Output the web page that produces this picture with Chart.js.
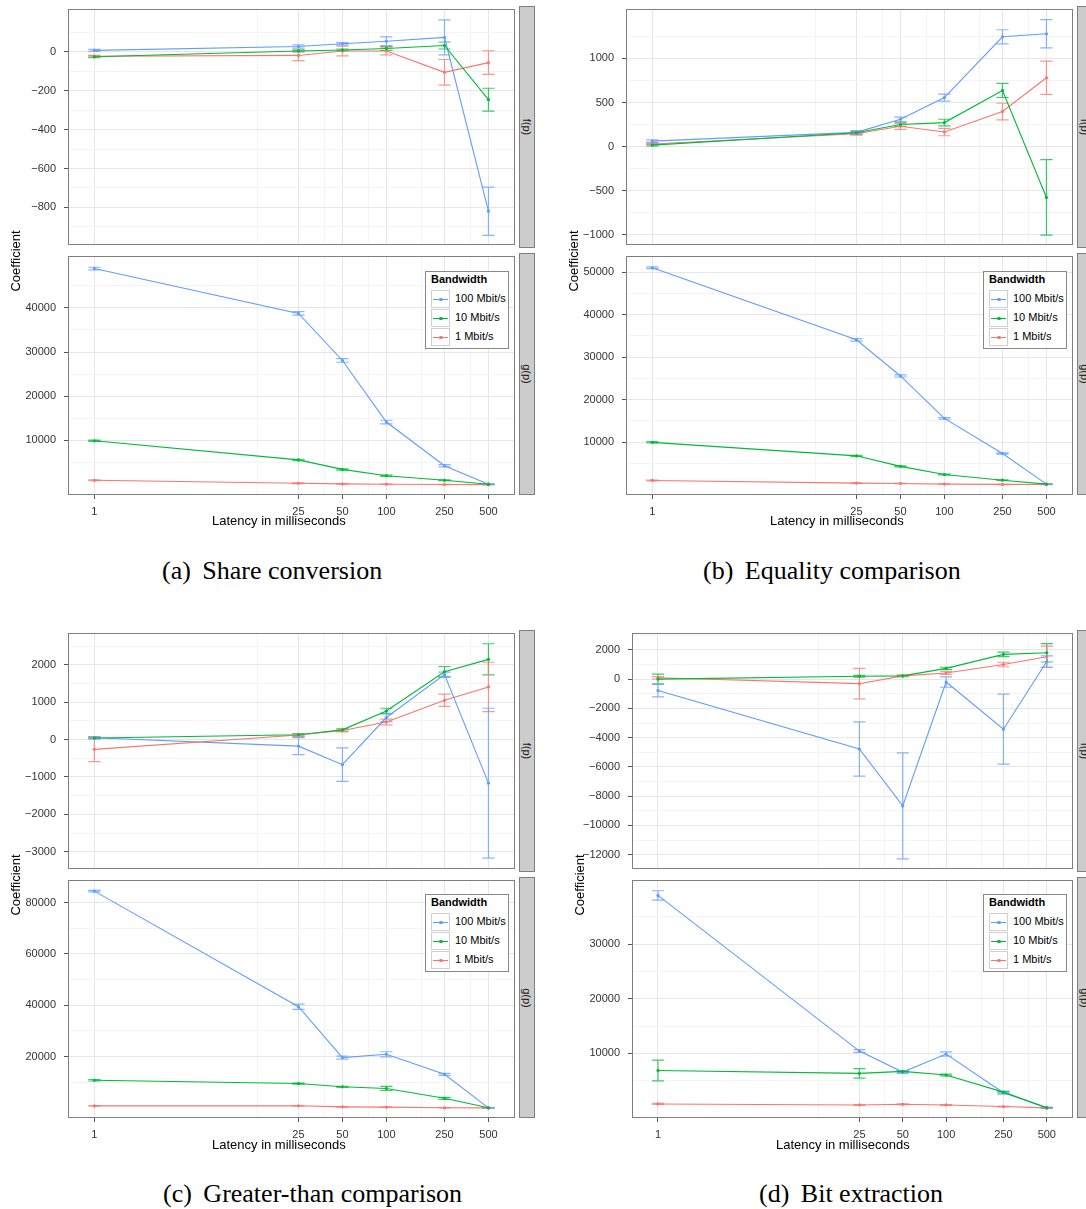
<!DOCTYPE html>
<html>
<head>
<meta charset="utf-8">
<title>Latency coefficients</title>
<script src="https://cdn.jsdelivr.net/npm/chart.js@4.4.1/dist/chart.umd.min.js"></script>
<style>
  body { margin: 0; width: 1086px; height: 1209px; position: relative; overflow: hidden; background: #fff;
         font-family: "Liberation Sans", Arial, sans-serif; color: #000; }
  canvas { position: absolute; }
  .strip { position: absolute; background: #ccc; border: 1px solid #7f7f7f; box-sizing: border-box; }
  .strip span { position: absolute; left: 50%; top: 50%; transform: translate(-50%, -50%) rotate(90deg);
                font-size: 11px; color: #1a1a1a; white-space: nowrap; }
  .ytitle { position: absolute; width: 80px; height: 16px; line-height: 16px; text-align: center; font-size: 13px;
            font-weight: normal; white-space: nowrap; transform: translate(-40px, -8px) rotate(-90deg); }
  .xtitle { position: absolute; font-size: 13px; line-height: 16px; white-space: nowrap; z-index: 2; }
  .caption { position: absolute; font-family: "Liberation Serif", "Times New Roman", serif; font-size: 26px;
             line-height: 30px; white-space: nowrap; }
  .caption span { margin-right: 5px; }
  .legend { position: absolute; width: 84px; height: 78px; box-sizing: border-box; border: 1px solid #888;
            background: #fff; font-size: 11px; z-index: 2; }
  .legend .title { position: absolute; left: 5px; top: 1px; font-weight: bold; }
  .legend .row { position: absolute; left: 5px; height: 18px; width: 75px; }
  .legend .key { position: absolute; left: 0; top: 0; width: 19px; height: 18px; box-sizing: border-box; border: 1px solid #d0d0d0; }
  .legend .key i { position: absolute; left: 1px; right: 1px; top: 7.5px; height: 1.5px; }
  .legend .key b { position: absolute; left: 7px; top: 6.5px; width: 3.5px; height: 3.5px; border-radius: 50%; }
  .legend .lab { position: absolute; left: 24px; top: 2px; white-space: nowrap; }
</style>
</head>
<body>
<script>
// latency in ms, shared by every panel (log axis)
const latency = [1, 25, 50, 100, 250, 500];
const latencyMinor = [13, 37.5, 75, 175, 375];
const bandwidths = ['100 Mbit/s', '10 Mbit/s', '1 Mbit/s'];
const seriesColours = ['#619CFF', '#00BA38', '#F8766D'];

// rows are in bandwidth order: 100, 10, 1 Mbit/s

// (a) Share conversion
const shareF = [[8, 28, 42, 55, 75, -820], [-25, 5, 10, 18, 33, -246], [-22, -18, 5, 5, -105, -55]];
const shareFErr = [[5, 8, 6, 22, 90, 124], [4, 5, 5, 10, 18, 59], [4, 27, 25, 20, 66, 61]];
const shareG = [[48900, 38740, 28100, 14170, 4270, 100], [9925, 5600, 3450, 2030, 990, 100], [990, 320, 170, 100, 20, 10]];
const shareGErr = [[300, 400, 400, 400, 250, 100], [150, 150, 150, 150, 100, 50], [100, 80, 60, 50, 30, 20]];
const shareFTicks = [-800, -600, -400, -200, 0];
const shareGTicks = [10000, 20000, 30000, 40000];
const shareFRange = [-994, 221];
const shareGRange = [-2340, 51740];

// (b) Equality comparison
const eqF = [[63, 162, 310, 556, 1245, 1279], [18, 158, 251, 273, 637, -575], [30, 147, 232, 166, 398, 781]];
const eqFErr = [[15, 20, 25, 40, 80, 160], [10, 12, 20, 38, 80, 428], [10, 15, 35, 42, 94, 188]];
const eqG = [[51006, 34060, 25550, 15570, 7290, 100], [9920, 6750, 4270, 2340, 1020, 100], [950, 330, 250, 100, 20, 10]];
const eqGErr = [[200, 300, 250, 200, 150, 80], [150, 120, 120, 100, 80, 50], [80, 60, 50, 40, 30, 20]];
const eqFTicks = [-1000, -500, 0, 500, 1000];
const eqGTicks = [10000, 20000, 30000, 40000, 50000];
const eqFRange = [-1114, 1560];
const eqGRange = [-2470, 53785];

// (c) Greater-than comparison
const gtF = [[52, -174, -670, 591, 1739, -1165], [43, 130, 261, 765, 1817, 2148], [-261, 122, 243, 470, 1052, 1409]];
const gtFErr = [[30, 226, 448, 110, 65, 2005], [20, 30, 30, 75, 140, 417], [330, 40, 35, 78, 165, 661]];
const gtG = [[84490, 39450, 19620, 20900, 13090, 50], [10790, 9510, 8230, 7590, 3750, 50], [800, 850, 420, 300, 50, 20]];
const gtGErr = [[300, 1000, 600, 1000, 400, 100], [300, 200, 200, 800, 400, 50], [150, 100, 80, 60, 40, 20]];
const gtFTicks = [-3000, -2000, -1000, 0, 1000, 2000];
const gtGTicks = [20000, 40000, 60000, 80000];
const gtFRange = [-3462, 2853];
const gtGRange = [-3920, 88830];

// (d) Bit extraction
const bitF = [[-778, -4778, -8667, -200, -3422, 1200], [0, 200, 222, 733, 1689, 1800], [89, -311, 222, 422, 1000, 1530]];
const bitFErr = [[440, 1855, 3620, 356, 2390, 390], [340, 60, 50, 80, 150, 630], [80, 1045, 40, 100, 155, 720]];
const bitG = [[38890, 10420, 6580, 9880, 2790, 90], [6880, 6340, 6700, 6040, 2910, 30], [750, 570, 690, 570, 270, 30]];
const bitGErr = [[850, 250, 250, 400, 250, 80], [1900, 880, 150, 150, 150, 50], [100, 80, 80, 80, 60, 30]];
const bitFTicks = [-12000, -10000, -8000, -6000, -4000, -2000, 0, 2000];
const bitGTicks = [10000, 20000, 30000];
const bitFRange = [-12980, 3153];
const bitGRange = [-1820, 41710];

// page layout
const rows = [
  { fTop: 6, fBottom: 248, gTop: 253, gBottom: 495, titleY: 261, xTitleTop: 513, legendTop: 271, captionTop: 556 },
  { fTop: 630, fBottom: 872, gTop: 877, gBottom: 1118, titleY: 885, xTitleTop: 1137, legendTop: 894, captionTop: 1179 }
];
const panels = [
  { tag: '(a)', name: 'Share conversion', left: 68, right: 518, row: 0, captionX: 162,
    f: { values: shareF, errors: shareFErr, ticks: shareFTicks, range: shareFRange },
    g: { values: shareG, errors: shareGErr, ticks: shareGTicks, range: shareGRange } },
  { tag: '(b)', name: 'Equality comparison', left: 626, right: 1076, row: 0, captionX: 703,
    f: { values: eqF, errors: eqFErr, ticks: eqFTicks, range: eqFRange },
    g: { values: eqG, errors: eqGErr, ticks: eqGTicks, range: eqGRange } },
  { tag: '(c)', name: 'Greater-than comparison', left: 68, right: 518, row: 1, captionX: 163,
    f: { values: gtF, errors: gtFErr, ticks: gtFTicks, range: gtFRange },
    g: { values: gtG, errors: gtGErr, ticks: gtGTicks, range: gtGRange } },
  { tag: '(d)', name: 'Bit extraction', left: 632, right: 1076, row: 1, captionX: 759,
    f: { values: bitF, errors: bitFErr, ticks: bitFTicks, range: bitFRange },
    g: { values: bitG, errors: bitGErr, ticks: bitGTicks, range: bitGRange } }
];

const AXIS_W = 64;
const X_AXIS_H = 26;
const STRIP_W = 16;
const capSpan = Math.pow(10, 0.042); // half width of error bar caps, in log units

Chart.defaults.font.family = '"Liberation Sans", Arial, sans-serif';
Chart.defaults.font.size = 11;
Chart.defaults.color = '#333';

function rgba(hex, a) {
  const n = parseInt(hex.slice(1), 16);
  return `rgba(${n >> 16}, ${(n >> 8) & 255}, ${n & 255}, ${a})`;
}

function fmt(v) {
  return v < 0 ? '\u2212' + Math.abs(v) : String(v);
}

// major ticks plus ggplot-style minor lines half way between them
function withMinor(major, lo, hi) {
  const step = major[1] - major[0];
  const out = major.map(v => ({ value: v }));
  for (let i = -1; i < major.length; i++) {
    const m = (i < 0 ? major[0] - step : major[i]) + step / 2;
    if (m > lo && m < hi) out.push({ value: m, minor: true });
  }
  return out.sort((p, q) => p.value - q.value);
}

const xTicks = latency.map(v => ({ value: v }))
  .concat(latencyMinor.map(v => ({ value: v, minor: true })))
  .sort((p, q) => p.value - q.value);

const gridColour = c => (c.tick && c.tick.minor) ? '#f4f4f4' : '#e6e6e6';
const tickColour = c => (c.tick && c.tick.minor) ? 'rgba(0,0,0,0)' : '#555';

const errorBars = {
  id: 'errorBars',
  beforeDatasetsDraw(chart) {
    const { ctx, scales: { x, y } } = chart;
    ctx.save();
    ctx.lineWidth = 1.2;
    chart.data.datasets.forEach(ds => {
      ctx.strokeStyle = rgba(ds.borderColor, 0.75);
      ds.data.forEach((pt, j) => {
        const e = ds.errors[j];
        const cx = x.getPixelForValue(pt.x);
        const x0 = x.getPixelForValue(pt.x / capSpan);
        const x1 = x.getPixelForValue(pt.x * capSpan);
        const yHi = y.getPixelForValue(pt.y + e);
        const yLo = y.getPixelForValue(pt.y - e);
        ctx.beginPath();
        ctx.moveTo(cx, yHi); ctx.lineTo(cx, yLo);
        ctx.moveTo(x0, yHi); ctx.lineTo(x1, yHi);
        ctx.moveTo(x0, yLo); ctx.lineTo(x1, yLo);
        ctx.stroke();
      });
    });
    ctx.restore();
  }
};

const panelFrame = {
  id: 'panelFrame',
  afterDraw(chart) {
    const { ctx, chartArea: a } = chart;
    ctx.save();
    ctx.strokeStyle = '#7f7f7f';
    ctx.lineWidth = 1;
    ctx.strokeRect(a.left + 0.5, a.top + 0.5, a.width - 1, a.height - 1);
    ctx.restore();
  }
};

function addDiv(cls, style, html) {
  const d = document.createElement('div');
  d.className = cls;
  Object.assign(d.style, style);
  d.innerHTML = html;
  document.body.appendChild(d);
  return d;
}

function facet(p, d, top, bottom, showX, label) {
  const plotW = p.right - p.left;
  const w = AXIS_W + plotW + 1;
  const h = bottom - top + 2 + (showX ? X_AXIS_H : 0);
  const canvas = document.createElement('canvas');
  canvas.width = w;
  canvas.height = h;
  canvas.style.left = (p.left - AXIS_W) + 'px';
  canvas.style.top = (top - 1) + 'px';
  canvas.style.width = w + 'px';
  canvas.style.height = h + 'px';
  document.body.appendChild(canvas);

  // green drawn on top, then red, blue underneath
  const datasets = [1, 2, 0].map(k => ({
    label: bandwidths[k],
    data: latency.map((l, j) => ({ x: l, y: d.values[k][j] })),
    errors: d.errors[k],
    borderColor: seriesColours[k],
    backgroundColor: seriesColours[k],
    borderWidth: 1.1,
    pointRadius: 1.6,
    pointBorderWidth: 0,
    tension: 0
  }));

  new Chart(canvas, {
    type: 'line',
    data: { datasets },
    options: {
      responsive: false,
      animation: false,
      devicePixelRatio: 1,
      layout: { padding: { top: 1, right: 1, bottom: 1, left: 0 } },
      plugins: { legend: { display: false }, tooltip: { enabled: false } },
      scales: {
        x: {
          type: 'logarithmic',
          min: 0.66,
          max: 760,
          bounds: 'data',
          afterBuildTicks: s => { s.ticks = xTicks.map(t => ({ ...t })); },
          afterFit: s => { s.height = showX ? X_AXIS_H : 0; s.paddingLeft = 0; s.paddingRight = 0; },
          ticks: {
            display: showX, autoSkip: false, maxRotation: 0, minRotation: 0, padding: 6, color: '#333',
            callback: (v, i, t) => t[i].minor ? '' : String(v)
          },
          grid: { color: gridColour, lineWidth: 1, drawTicks: showX, tickLength: 4, tickColor: tickColour },
          border: { display: false }
        },
        y: {
          min: d.range[0],
          max: d.range[1],
          bounds: 'data',
          afterBuildTicks: s => { s.ticks = withMinor(d.ticks, d.range[0], d.range[1]); },
          afterFit: s => { s.width = AXIS_W; s.paddingTop = 0; s.paddingBottom = 0; },
          ticks: {
            autoSkip: false, padding: 8, color: '#333',
            callback: (v, i, t) => t[i].minor ? '' : fmt(v)
          },
          grid: { color: gridColour, lineWidth: 1, drawTicks: true, tickLength: 4, tickColor: tickColour },
          border: { display: false }
        }
      }
    },
    plugins: [errorBars, panelFrame]
  });

  addDiv('strip', {
    left: (p.right + 1) + 'px', top: top + 'px', width: STRIP_W + 'px', height: (bottom - top) + 'px'
  }, '<span>' + label + '</span>');
}

function legendHtml() {
  let html = '<div class="title">Bandwidth</div>';
  bandwidths.forEach((b, k) => {
    const c = seriesColours[k];
    html += `<div class="row" style="top:${18 + k * 19}px"><span class="key"><i style="background:${c}"></i>` +
            `<b style="background:${c}"></b></span><span class="lab">${b}</span></div>`;
  });
  return html;
}

panels.forEach(p => {
  const r = rows[p.row];
  facet(p, p.f, r.fTop, r.fBottom, false, 'f(p)');
  facet(p, p.g, r.gTop, r.gBottom, true, 'g(p)');

  addDiv('ytitle', { left: (p.left - 52) + 'px', top: r.titleY + 'px' }, 'Coefficient');
  addDiv('xtitle', { left: (p.left + 144) + 'px', top: r.xTitleTop + 'px' }, 'Latency in milliseconds');
  addDiv('legend', { left: (p.right - 93) + 'px', top: r.legendTop + 'px' }, legendHtml());
  addDiv('caption', { left: p.captionX + 'px', top: r.captionTop + 'px' }, '<span>' + p.tag + '</span> ' + p.name);
});
</script>
</body>
</html>
